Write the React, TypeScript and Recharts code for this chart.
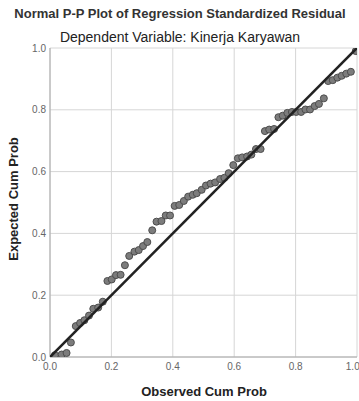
import { ScatterChart, Scatter, XAxis, YAxis, CartesianGrid } from 'recharts';

// observed cumulative probability (x) and expected cumulative probability (y)
const observedCum = [
  0.016, 0.038, 0.054, 0.068, 0.084, 0.098, 0.112, 0.127, 0.141, 0.157,
  0.172, 0.187, 0.201, 0.215, 0.23, 0.244, 0.258, 0.275, 0.289, 0.303,
  0.317, 0.333, 0.347, 0.363, 0.377, 0.391, 0.406, 0.421, 0.436, 0.45,
  0.465, 0.478, 0.494, 0.508, 0.523, 0.538, 0.554, 0.568, 0.582, 0.597,
  0.612, 0.626, 0.642, 0.656, 0.671, 0.686, 0.7, 0.714, 0.73, 0.744,
  0.758, 0.773, 0.788, 0.802, 0.818, 0.832, 0.847, 0.862, 0.876, 0.892,
  0.906, 0.921, 0.936, 0.95, 0.965, 0.98, 0.996,
];
const expectedCum = [
  0.006, 0.008, 0.013, 0.047, 0.1, 0.11, 0.119, 0.134, 0.156, 0.16,
  0.179, 0.246, 0.251, 0.265, 0.266, 0.297, 0.327, 0.341, 0.346, 0.359,
  0.372, 0.41, 0.438, 0.44, 0.458, 0.458, 0.489, 0.492, 0.505, 0.519,
  0.525, 0.53, 0.541, 0.555, 0.561, 0.565, 0.576, 0.58, 0.595, 0.621,
  0.643, 0.646, 0.649, 0.655, 0.673, 0.673, 0.731, 0.736, 0.738, 0.776,
  0.781, 0.79, 0.793, 0.793, 0.793, 0.801, 0.801, 0.812, 0.819, 0.837,
  0.893, 0.896, 0.904, 0.91, 0.917, 0.923, 0.99,
];
// diagonal reference line
const diagX = [0, 1];
const diagY = [0, 1];
const axisTicks = [0, 0.2, 0.4, 0.6, 0.8, 1];

const points = observedCum.map((x, i) => ({ x, y: expectedCum[i] }));
const diagonal = diagX.map((x, i) => ({ x, y: diagY[i] }));

const font = "'Liberation Sans', Arial, sans-serif";
const fmt = (v: number) => v.toFixed(1);

const Dot = (props: any) => {
  const { cx, cy } = props;
  if (cx == null || cy == null) return null;
  return <circle cx={cx} cy={cy} r={3.5} fill="#7c7c7c" stroke="#4d4d4d" strokeWidth={1} />;
};

const App = () => {
  return (
    <div style={{ position: 'absolute', left: 0, top: 0, width: 359, height: 401, background: '#fff' }}>
      <ScatterChart width={359} height={401} margin={{ top: 48, right: 2, bottom: 24, left: 0 }}>
        <CartesianGrid stroke="#d6d6d6" strokeWidth={1} />
        <XAxis
          type="number"
          dataKey="x"
          domain={[0, 1]}
          ticks={axisTicks}
          tickFormatter={fmt}
          height={20}
          tickSize={0}
          tickMargin={6}
          stroke="#a8a8a8"
          tick={{ fill: '#666', fontSize: 10, fontFamily: font }}
          allowDataOverflow
        />
        <YAxis
          type="number"
          dataKey="y"
          domain={[0, 1]}
          ticks={axisTicks}
          tickFormatter={fmt}
          width={50}
          tickSize={0}
          tickMargin={4}
          stroke="#a8a8a8"
          tick={{ fill: '#666', fontSize: 10, fontFamily: font }}
          allowDataOverflow
        />
        <Scatter data={points} shape={<Dot />} isAnimationActive={false} />
        <Scatter
          data={diagonal}
          line={{ stroke: '#222', strokeWidth: 2.6 }}
          shape={() => null}
          isAnimationActive={false}
        />
      </ScatterChart>
      <svg
        width={359}
        height={401}
        style={{ position: 'absolute', left: 0, top: 0, pointerEvents: 'none' }}
      >
        <text x={180} y={17.5} textAnchor="middle" fontFamily={font} fontSize={13} fontWeight="bold" fill="#333">
          Normal P-P Plot of Regression Standardized Residual
        </text>
        <text x={180} y={41.5} textAnchor="middle" fontFamily={font} fontSize={14} fill="#222">
          Dependent Variable: Kinerja Karyawan
        </text>
        <text x={204} y={395.5} textAnchor="middle" fontFamily={font} fontSize={13} fontWeight="bold" fill="#222">
          Observed Cum Prob
        </text>
        <text
          transform="translate(17.5,199) rotate(-90)"
          textAnchor="middle"
          fontFamily={font}
          fontSize={13}
          fontWeight="bold"
          fill="#222"
        >
          Expected Cum Prob
        </text>
      </svg>
    </div>
  );
};

export default App;
